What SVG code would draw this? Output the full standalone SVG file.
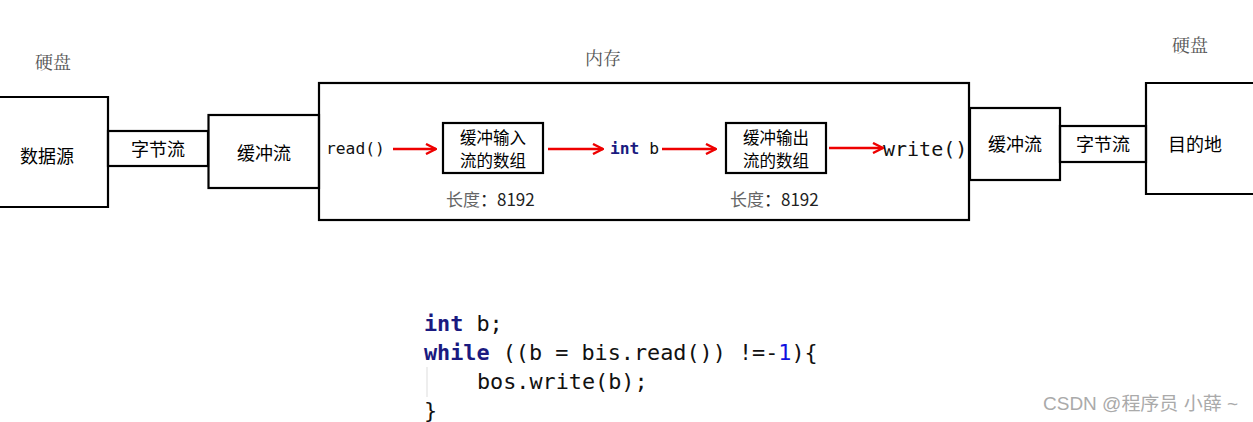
<svg xmlns="http://www.w3.org/2000/svg" width="1253" height="422" viewBox="0 0 1253 422">
<style>
.box{fill:none;stroke:#000;stroke-width:2.2}
.lbl{font-family:"Noto Sans CJK SC","Noto Sans",sans-serif;font-size:18px;fill:#000;text-anchor:middle;dominant-baseline:central}
.sm{font-family:"Noto Sans CJK SC","Noto Sans",sans-serif;font-size:16.5px;fill:#000;text-anchor:middle;dominant-baseline:central}
.cap{font-family:"Noto Serif CJK SC","Noto Sans CJK SC",serif;font-size:18px;fill:#555;text-anchor:middle;dominant-baseline:central}
.mono{font-family:"DejaVu Sans Mono","Liberation Mono",monospace;fill:#111}
.kw{font-weight:bold;fill:#1a1a80}
.arr{stroke:#e00;stroke-width:2.6;fill:none}
.len{font-family:"Noto Sans CJK SC",sans-serif;font-size:17px;dominant-baseline:central}
</style>
<defs>
<marker id="ah" viewBox="0 0 12 12" refX="11" refY="6" markerWidth="12" markerHeight="12" markerUnits="userSpaceOnUse" orient="auto">
<path d="M1,1 L11,6 L1,11" fill="none" stroke="#e00" stroke-width="2.4"/>
</marker>
</defs>
<rect width="1253" height="422" fill="#fff"/>
<text class="cap" x="53" y="61">硬盘</text>
<text class="cap" x="603" y="57">内存</text>
<text class="cap" x="1190" y="44">硬盘</text>
<g id="src"><path class="box" d="M-2,97 H108 V207 H-2"/><text class="lbl" x="47" y="155">数据源</text></g>
<g id="byte1"><rect class="box" x="108" y="131" width="100" height="35"/><text class="lbl" x="158" y="148">字节流</text></g>
<g id="buf1"><rect class="box" x="208.5" y="115" width="110.5" height="73"/><text class="lbl" x="264" y="152">缓冲流</text></g>
<g id="mem"><rect class="box" x="319" y="83" width="650" height="137"/></g>
<g id="inarr"><rect class="box" x="443" y="123" width="100" height="50"/><text class="sm" x="493" y="136.5">缓冲输入</text><text class="sm" x="493" y="160">流的数组</text>
<text class="len" x="446" y="198"><tspan fill="#666">长度</tspan><tspan fill="#222">：8192</tspan></text></g>
<g id="outarr"><rect class="box" x="726" y="123" width="100" height="50"/><text class="sm" x="776" y="136.5">缓冲输出</text><text class="sm" x="776" y="160">流的数组</text>
<text class="len" x="730" y="198"><tspan fill="#666">长度</tspan><tspan fill="#222">：8192</tspan></text></g>
<g id="read"><text class="mono" x="326" y="154" font-size="16.3">read()</text></g>
<g id="intb"><text class="mono" x="610" y="154" font-size="16.3"><tspan class="kw">int</tspan> b</text></g>
<g id="write"><text class="mono" x="883" y="156" font-size="20">write()</text></g>
<g id="buf2"><rect class="box" x="970" y="108" width="90" height="72"/><text class="lbl" x="1015" y="143">缓冲流</text></g>
<g id="byte2"><rect class="box" x="1060" y="126" width="86" height="36"/><text class="lbl" x="1103" y="143">字节流</text></g>
<g id="dst"><path class="box" d="M1255,83 H1146 V194 H1255"/><text class="lbl" x="1195" y="143">目的地</text></g>
<g id="connectors">
<line class="arr" x1="393" y1="149" x2="436" y2="149" marker-end="url(#ah)"/>
<line class="arr" x1="548" y1="149" x2="603" y2="149" marker-end="url(#ah)"/>
<line class="arr" x1="662" y1="149" x2="716" y2="149" marker-end="url(#ah)"/>
<line class="arr" x1="829" y1="148" x2="883" y2="148" marker-end="url(#ah)"/>
</g>
<g id="code" class="mono" font-size="21.8">
<text x="424" y="331"><tspan class="kw">int</tspan> b;</text>
<text x="424" y="360"><tspan class="kw">while</tspan> ((b = bis.read()) !=-<tspan fill="#1010e0">1</tspan>){</text>
<line x1="427" y1="367" x2="427" y2="397" stroke="#ddd" stroke-width="1"/>
<text x="477" y="389">bos.write(b);</text>
<text x="424" y="418">}</text>
</g>
<text x="1043" y="410" font-family="Liberation Sans,Noto Sans CJK SC,sans-serif" font-size="18" fill="#aaa" textLength="195" lengthAdjust="spacingAndGlyphs">CSDN @程序员 小薛 ~</text>
</svg>
